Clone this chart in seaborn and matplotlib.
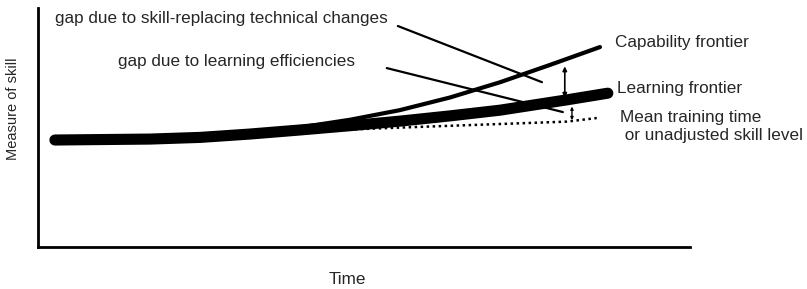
import numpy as np
import pandas as pd
import matplotlib
matplotlib.use("Agg")
import matplotlib.pyplot as plt
import seaborn as sns

# ── Data (time / skill on a 0-100 scale) ──
cap_time   = [2.6, 17.2, 24.9, 32.5, 40.2, 47.9, 55.5, 63.2, 70.9, 78.5, 86.2]
cap_skill  = [44.8, 45.4, 46.3, 47.8, 50.1, 53.3, 57.3, 62.6, 69.0, 76.2, 83.7]

learn_time  = [2.6, 17.2, 24.9, 32.5, 40.2, 47.9, 55.5, 63.2, 70.9, 81.1, 87.4]
learn_skill = [44.8, 45.2, 45.9, 47.3, 49.0, 50.8, 52.7, 54.9, 57.3, 61.6, 64.4]

mean_time  = [2.6, 32.5, 55.5, 81.1, 85.7]
mean_skill = [44.8, 47.6, 50.0, 52.5, 54.0]

labels = ["Capability frontier", "Learning frontier",
          "Mean training time\n or unadjusted skill level"]
gap_texts = ["gap due to skill-replacing technical changes",
             "gap due to learning efficiencies"]

sns.set_theme(style="white")
plt.rcParams["font.family"] = ["Liberation Sans", "DejaVu Sans"]

FS = 12.3

fig = plt.figure(figsize=(8.07, 2.89), dpi=100)
ax = fig.add_axes([0.047, 0.145, 0.808, 0.827])

cap_df   = pd.DataFrame({"t": cap_time, "s": cap_skill})
learn_df = pd.DataFrame({"t": learn_time, "s": learn_skill})
mean_df  = pd.DataFrame({"t": mean_time, "s": mean_skill})

sns.lineplot(data=mean_df, x="t", y="s", ax=ax, color="black",
             lw=1.8, linestyle=(0, (1.0, 1.4)))
sns.lineplot(data=cap_df, x="t", y="s", ax=ax, color="black", lw=3.0,
             solid_joinstyle="round")
sns.lineplot(data=learn_df, x="t", y="s", ax=ax, color="black",
             lw=8, solid_capstyle="round", solid_joinstyle="round")

ax.set_xlim(0, 100)
ax.set_ylim(0, 100)
ax.set_xticks([])
ax.set_yticks([])
for side in ["top", "right"]:
    ax.spines[side].set_visible(False)
for side in ["left", "bottom"]:
    ax.spines[side].set_color("black")
    ax.spines[side].set_linewidth(2)

ax.set_xlabel("Time", fontsize=FS)
ax.xaxis.set_label_coords(0.474, -0.105)
ax.set_ylabel("Measure of skill", fontsize=10.5)
ax.yaxis.set_label_coords(-0.028, 0.58)

# ── right-hand labels ──
ax.text(88.5, 85.4, labels[0], fontsize=FS, va="center", clip_on=False)
ax.text(88.8, 66.5, labels[1], fontsize=FS, va="center", clip_on=False)
ax.text(89.3, 50.6, labels[2], fontsize=FS, va="center",
        linespacing=1.27, clip_on=False)

# ── gap annotations ──
ax.text(2.6, 95.8, gap_texts[0], fontsize=FS, va="center")
ax.text(12.3, 77.8, gap_texts[1], fontsize=FS, va="center")
ax.annotate("", xy=(77.3, 69.0), xytext=(55.2, 92.5),
            arrowprops=dict(arrowstyle="-", color="black", lw=1.6,
                            shrinkA=0, shrinkB=0))
ax.annotate("", xy=(80.5, 56.5), xytext=(53.5, 74.9),
            arrowprops=dict(arrowstyle="-", color="black", lw=1.6,
                            shrinkA=0, shrinkB=0))

# ── vertical gap arrows ──
ax.annotate("", xy=(80.8, 75.6), xytext=(80.8, 62.5),
            arrowprops=dict(arrowstyle="<|-|>", color="black", lw=1.2,
                            mutation_scale=6, shrinkA=0, shrinkB=0))
ax.annotate("", xy=(81.9, 58.8), xytext=(81.9, 53.1),
            arrowprops=dict(arrowstyle="<|-|>", color="black", lw=1.0,
                            mutation_scale=4, shrinkA=0, shrinkB=0))

fig.savefig("out.png", dpi=100)
